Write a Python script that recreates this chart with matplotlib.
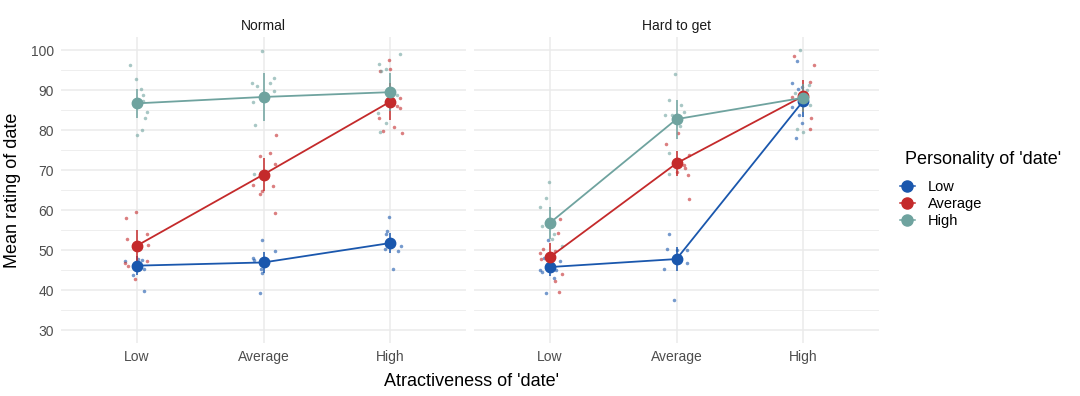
import numpy as np
import matplotlib.pyplot as plt
from matplotlib.lines import Line2D

plt.rcParams['font.family'] = ['Liberation Sans', 'DejaVu Sans']

# categories
attract = ["Low", "Average", "High"]
personality = ["Low", "Average", "High"]
panels = ["Normal", "Hard to get"]
colors = {"Low": "#1a57ad", "Average": "#c42a2b", "High": "#6fa39f"}

# group means and error half-widths, per panel -> personality -> attractiveness
means_normal = {"Low": [46.1, 46.9, 51.75], "Average": [51.1, 68.9, 87.1], "High": [86.7, 88.3, 89.5]}
err_normal = {"Low": [2.3, 2.7, 2.4], "Average": [3.9, 4.2, 4.6], "High": [3.7, 5.9, 4.7]}
means_htg = {"Low": [45.75, 47.75, 87.25], "Average": [48.25, 71.7, 88.5], "High": [56.8, 82.75, 88.1]}
err_htg = {"Low": [2.3, 3.0, 4.0], "Average": [3.6, 3.1, 4.0], "High": [4.0, 4.9, 3.5]}

# raw ratings (jitter offset, value) per panel / personality / attractiveness
raw_normal = {
    "Low": [
        [(-0.094, 47.3), (0.039, 47.5), (0.008, 47.8), (0.052, 45.25), (0.013, 45.2), (-0.031, 43.8), (0.058, 39.7)],
        [(-0.008, 52.6), (0.087, 49.8), (-0.084, 47.9), (-0.079, 47.6), (-0.021, 45.2), (-0.008, 44.3), (-0.029, 39.2), (0.0, 46.25)],
        [(-0.005, 58.2), (-0.026, 54.7), (-0.034, 54.0), (-0.037, 50.25), (0.066, 49.8), (0.089, 51.0), (0.021, 45.2)],
    ],
    "Average": [
        [(-0.01, 59.6), (-0.087, 57.9), (0.081, 53.9), (-0.081, 52.75), (0.089, 51.2), (0.081, 47.3), (-0.094, 46.7), (-0.068, 46.1), (-0.018, 42.7)],
        [(0.097, 78.7), (-0.024, 73.6), (0.055, 74.2), (0.087, 71.6), (0.076, 66.1), (-0.084, 66.25), (-0.031, 63.9), (-0.01, 64.8), (0.087, 59.25)],
        [(-0.005, 97.6), (-0.003, 95.25), (-0.076, 94.9), (0.079, 88.1), (0.055, 86.0), (0.076, 85.6), (-0.084, 83.0), (-0.055, 79.9), (0.029, 80.8), (0.094, 79.2)],
    ],
    "High": [
        [(-0.055, 96.25), (-0.008, 92.75), (0.034, 90.25), (0.05, 88.75), (0.045, 87.25), (0.076, 84.6), (0.063, 83.1), (0.037, 80.0), (0.003, 78.8)],
        [(-0.013, 99.75), (-0.092, 91.9), (-0.055, 91.0), (0.081, 93.1), (0.05, 91.7), (0.081, 89.9), (-0.084, 87.1), (-0.068, 81.25), (-0.076, 69.0)],
        [(-0.089, 96.6), (0.076, 99.1), (-0.068, 94.8), (-0.031, 95.25), (0.055, 88.8), (-0.094, 84.2), (-0.029, 81.8), (-0.079, 79.5)],
    ],
}
raw_htg = {
    "Low": [
        [(-0.013, 52.6), (0.082, 47.25), (-0.05, 48.1), (-0.077, 44.9), (-0.063, 44.5), (0.05, 44.9), (0.029, 43.1), (-0.032, 39.2)],
        [(-0.061, 54.1), (-0.079, 50.2), (0.084, 50.0), (-0.098, 45.25), (0.082, 46.7), (-0.021, 37.6), (0.003, 50.0)],
        [(-0.047, 97.25), (-0.084, 91.8), (-0.042, 90.2), (-0.005, 90.8), (-0.084, 85.7), (-0.032, 83.7), (-0.011, 81.8), (-0.053, 78.0)],
    ],
    "Average": [
        [(0.082, 57.7), (0.061, 54.2), (-0.053, 50.2), (-0.077, 49.2), (-0.069, 47.7), (0.04, 49.75), (0.098, 44.0), (0.042, 42.25), (0.071, 39.5)],
        [(0.011, 79.25), (-0.082, 76.6), (0.1, 73.75), (0.058, 71.2), (0.069, 70.6), (0.092, 68.8), (0.1, 62.7), (0.003, 69.6)],
        [(-0.069, 98.6), (0.087, 96.2), (0.058, 92.1), (-0.087, 88.3), (0.066, 83.0), (0.055, 80.2)],
    ],
    "High": [
        [(-0.011, 67.0), (-0.034, 63.1), (-0.079, 60.75), (-0.066, 55.9), (0.029, 54.1), (0.013, 52.7), (0.095, 51.0), (-0.016, 57.7)],
        [(-0.008, 94.0), (-0.063, 87.6), (0.034, 86.2), (0.061, 84.6), (-0.087, 83.9), (-0.034, 83.75), (0.024, 81.0), (-0.063, 74.25), (-0.061, 69.0)],
        [(-0.026, 100.1), (-0.066, 89.2), (0.045, 91.25), (0.034, 90.0), (-0.045, 80.25), (-0.003, 79.5), (0.053, 86.2)],
    ],
}

fig = plt.figure(figsize=(10.8, 3.96), dpi=100)
W, H = 1080, 396
ax_l = fig.add_axes([61 / W, 53 / H, 405 / W, 306 / H])
ax_r = fig.add_axes([474 / W, 53 / H, 405 / W, 306 / H])

grid_c = "#ebebeb"
xpos = np.arange(1, 4)

for ax, title, means, errs, raw in [
    (ax_l, panels[0], means_normal, err_normal, raw_normal),
    (ax_r, panels[1], means_htg, err_htg, raw_htg),
]:
    ax.set_xlim(0.4, 3.6)
    ax.set_ylim(26.75, 103.3)
    for s in ax.spines.values():
        s.set_visible(False)
    for y in range(30, 101, 10):
        ax.axhline(y, color=grid_c, lw=1.1, zorder=0)
    for y in range(35, 100, 10):
        ax.axhline(y, color=grid_c, lw=0.6, zorder=0)
    for x in xpos:
        ax.axvline(x, color=grid_c, lw=1.1, zorder=0)
    ax.set_xticks(xpos)
    ax.set_xticklabels(attract)
    ax.set_yticks(range(30, 101, 10))
    ax.tick_params(length=0, labelsize=10, colors="#4d4d4d", pad=5)
    ax.set_title(title, fontsize=10, color="#1a1a1a", pad=5)

    for p in personality:
        c = colors[p]
        for i, pts in enumerate(raw[p]):
            xs = [xpos[i] + d for d, v in pts]
            ys = [v for d, v in pts]
            ax.scatter(xs, ys, s=6.5, color=c, alpha=0.6, lw=0, zorder=2)
    for p in personality:
        c = colors[p]
        ax.plot(xpos, means[p], color=c, lw=1.3, zorder=3)
        ax.errorbar(xpos, means[p], yerr=errs[p], fmt="o", color=c, ms=7.5,
                    elinewidth=1.1, capsize=0, zorder=4)

ax_r.tick_params(labelleft=False)
ax_l.set_ylabel("Mean rating of date", fontsize=13, color="black", labelpad=7)
fig.text(472 / W, 1 - 381 / H, "Atractiveness of 'date'", fontsize=13, ha="center", va="center")

# legend
fig.text(905 / W, 1 - 160 / H, "Personality of 'date'", fontsize=13, ha="left", va="center")
handles = [Line2D([0], [0], marker="o", color=colors[p], ms=8, lw=1.1) for p in personality]
leg = fig.legend(handles, personality, loc="upper left",
                 bbox_to_anchor=(900 / W, 1 - 180 / H), frameon=False, fontsize=10.5,
                 handlelength=1.0, handletextpad=0.9,
                 labelspacing=0.2, borderaxespad=0, borderpad=0)

fig.savefig("out.png", dpi=100)
